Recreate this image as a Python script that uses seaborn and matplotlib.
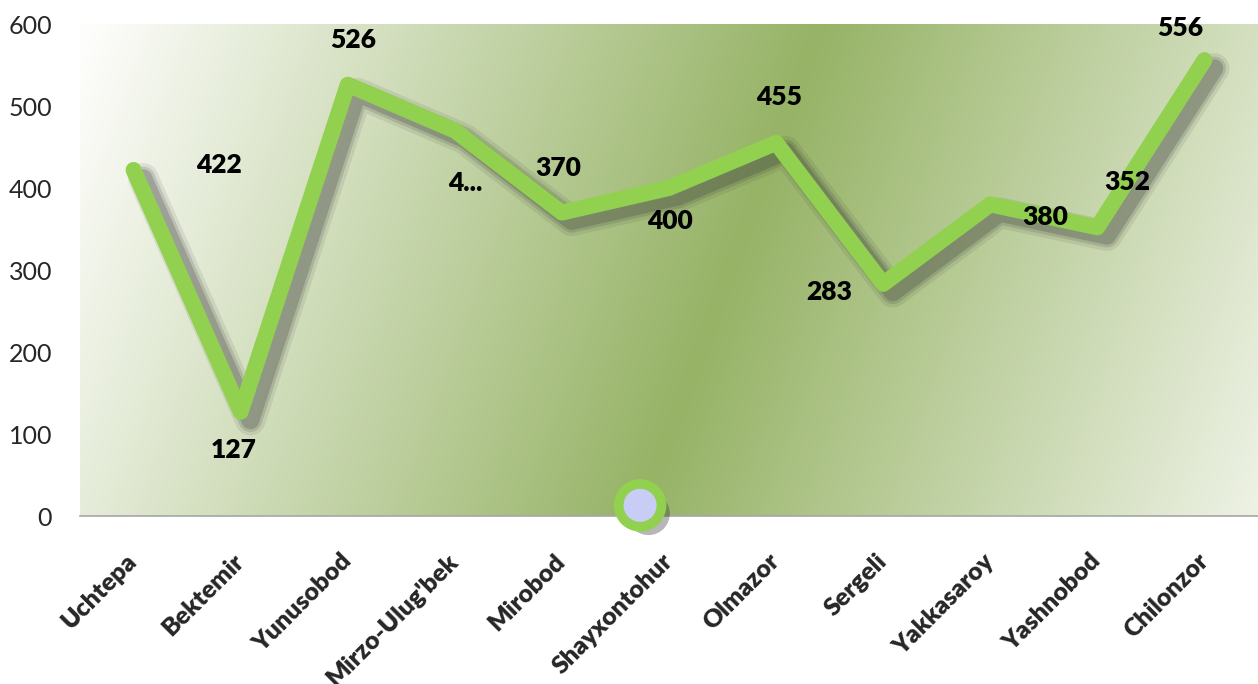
import numpy as np
import pandas as pd
import matplotlib
matplotlib.use('Agg')
import matplotlib.pyplot as plt
import matplotlib.patheffects as pe
import seaborn as sns

# Data
districts = ['Uchtepa', 'Bektemir', 'Yunusobod', "Mirzo-Ulug'bek", 'Mirobod', 'Shayxontohur',
             'Olmazor', 'Sergeli', 'Yakkasaroy', 'Yashnobod', 'Chilonzor']
values = [422, 127, 526, 470, 370, 400, 455, 283, 380, 352, 556]
value_labels = ['422', '127', '526', '4...', '370', '400', '455', '283', '380', '352', '556']
y_ticks = [0, 100, 200, 300, 400, 500, 600]

# label offsets in pixels (style only)
label_offsets = [(85, 5), (-7, -38), (5, 45), (10, -52), (-4, 45), (1, -33),
                 (3, 46), (-54, -8), (55, -13), (30, 45), (-24, 32)]

# stray round marker near the axis
marker_x, marker_y = 4.73, 13

df = pd.DataFrame({'district': districts, 'value': values, 'pos': range(len(districts))})

sns.set_style('white')
plt.rcParams['font.family'] = ['Lato', 'DejaVu Sans']

fig = plt.figure(figsize=(12.58, 6.84), dpi=100)
ax = fig.add_axes([80 / 1258, 168 / 684, 1178 / 1258, 492 / 684])

# background gradient (tilted band of dark green, white at the sides)
H, W = 250, 600
yy, xx = np.mgrid[0:H, 0:W]
x_px = 80 + xx / (W - 1) * 1178
y_px = 24 + yy / (H - 1) * 492
d = (x_px - 640) * 0.939 + (y_px - 516) * 0.344
t = np.clip(np.abs(d) / 680, 0, 1)
dark = np.array([150, 179, 102]) / 255
light = np.array([253, 253, 251]) / 255
img = dark[None, None, :] * (1 - t[..., None]) + light[None, None, :] * t[..., None]
ax.imshow(img, extent=[-0.5, len(districts) - 0.5, 0, 600], aspect='auto', zorder=0)

# line with soft shadow
shadow = [pe.SimpleLineShadow(offset=(7, -6), shadow_color='#3a3a3a', alpha=a, linewidth=w)
          for w, a in [(22, 0.10), (17, 0.16), (13, 0.24)]]
sns.lineplot(data=df, x='pos', y='value', ax=ax, color='#92d050', linewidth=11.5, sort=False,
             solid_capstyle='round', solid_joinstyle='round', zorder=3,
             path_effects=shadow + [pe.Normal()])

for i, (v, lab) in enumerate(zip(values, value_labels)):
    ax.annotate(lab, (i, v), xytext=label_offsets[i], textcoords='offset pixels',
                ha='center', va='center', fontsize=19, fontweight='heavy', color='black', zorder=5)

ax.scatter([marker_x], [marker_y], s=950, facecolor='#c8cdf5', edgecolor='#92d050',
           linewidth=7, zorder=4, clip_on=False,
           path_effects=[pe.SimplePatchShadow(offset=(6, -6), shadow_rgbFace='#333333', alpha=0.35),
                         pe.Normal()])

ax.set_xlim(-0.5, len(districts) - 0.5)
ax.set_ylim(0, 600)
ax.set_yticks(y_ticks)
ax.set_yticklabels([str(v) for v in y_ticks], fontsize=18)
ax.tick_params(axis='y', length=0, pad=20)

ax.set_xticks(range(len(districts)))
ax.set_xticklabels(districts, rotation=45, ha='right', va='center', rotation_mode='anchor',
                   fontsize=18, fontweight='heavy')
ax.set_xticks(np.arange(-0.5, len(districts), 1), minor=True)
ax.tick_params(axis='x', which='major', length=0, pad=30)
ax.tick_params(axis='x', which='minor', length=8, color='#a6a6a6', width=1, direction='out')
ax.set_xlabel('')
ax.set_ylabel('')

for s in ['top', 'right', 'left']:
    ax.spines[s].set_visible(False)
ax.spines['bottom'].set_color('#a6a6a6')
ax.spines['bottom'].set_linewidth(1.2)
ax.grid(False)

fig.savefig('out.png', dpi=100)
